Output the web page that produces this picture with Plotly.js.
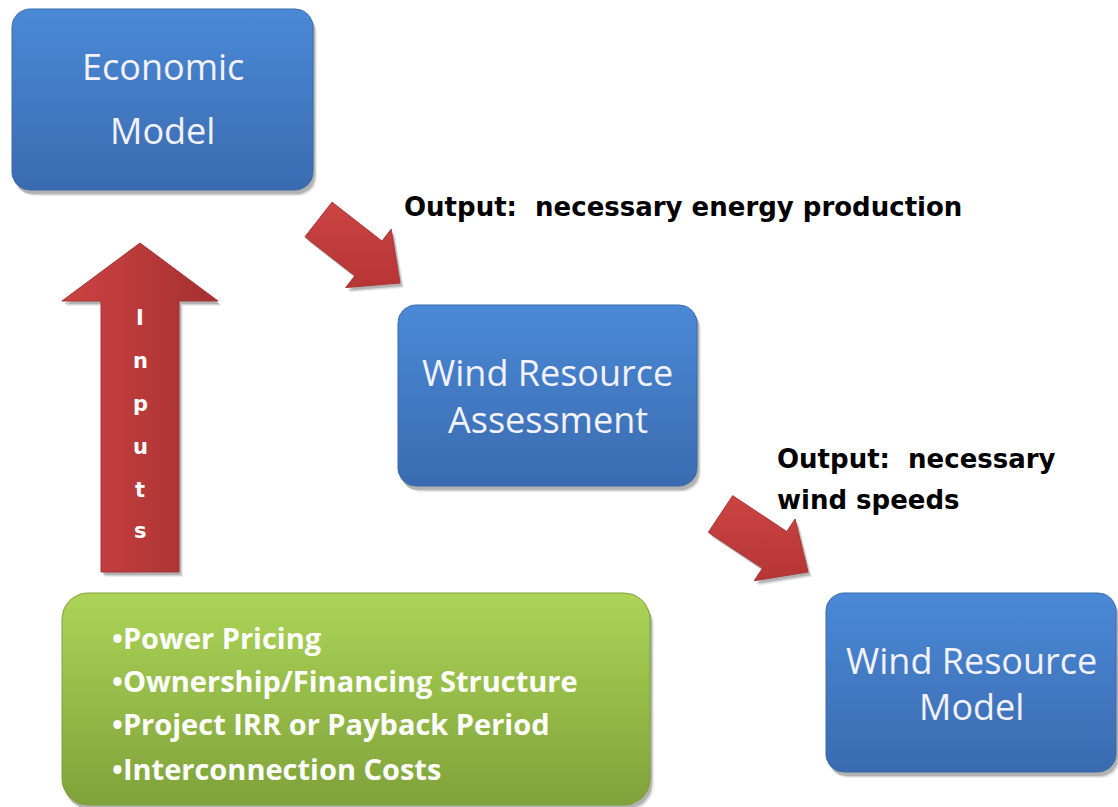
<!DOCTYPE html>
<html><head><meta charset="utf-8">
<script src="https://cdn.plot.ly/plotly-3.0.1.min.js"></script>
<style>html,body{margin:0;padding:0;background:#fff}#chart{width:1118px;height:807px}</style>
</head><body><div id="chart"></div>
<script>
// ---- content ----
const boxLabels = [["Economic","Model"],["Wind Resource","Assessment"],["Wind Resource","Model"]];
const inputItems = ["•Power Pricing","•Ownership/Financing Structure","•Project IRR or Payback Period","•Interconnection Costs"];
const arrowWord = ["I","n","p","u","t","s"];
const outputNotes = [["Output:  necessary energy production"],["Output:  necessary","wind speeds"]];

// ---- geometry (pixel space) ----
const boxRects = [[12,9,313,190],[398,305,697,486],[826,593,1116,772]];
const boxLineY = [[66,130],[372,419],[660,706]];
const greenRect = [62,593,650,805];
const inputLineY = [637,680,723,768];
const upArrow = {x:140, tipY:243, headY:301, headHalf:78, shaftHalf:39, bottom:572};
const diagArrows = [
  {tail:[318.5,219.5], tip:[400,283], shaftW:44, headW:74, headL:40},
  {tail:[720.5,514], tip:[808,572], shaftW:44, headW:74, headL:40}
];
const inputWordY = [318,361,404,447,490,531];
const noteX = [402,775];
const noteY = [[207],[459,500]];

function roundRect(x0,y0,x1,y1,r){
  const xs=[],ys=[],n=10;
  const corners=[[x1-r,y0+r,-Math.PI/2,0],[x1-r,y1-r,0,Math.PI/2],[x0+r,y1-r,Math.PI/2,Math.PI],[x0+r,y0+r,Math.PI,1.5*Math.PI]];
  corners.forEach(c=>{for(let i=0;i<=n;i++){const a=c[2]+(c[3]-c[2])*i/n;xs.push(c[0]+r*Math.cos(a));ys.push(c[1]+r*Math.sin(a));}});
  xs.push(xs[0]);ys.push(ys[0]);
  return [xs,ys];
}
function diagPoly(a){
  const dx=a.tip[0]-a.tail[0], dy=a.tip[1]-a.tail[1], L=Math.hypot(dx,dy);
  const ux=dx/L, uy=dy/L, px=-uy, py=ux;
  const bx=a.tip[0]-ux*a.headL, by=a.tip[1]-uy*a.headL;
  const s=a.shaftW/2, h=a.headW/2;
  const pts=[[a.tail[0]+px*s,a.tail[1]+py*s],[bx+px*s,by+py*s],[bx+px*h,by+py*h],a.tip,[bx-px*h,by-py*h],[bx-px*s,by-py*s],[a.tail[0]-px*s,a.tail[1]-py*s]];
  pts.push(pts[0]);
  return [pts.map(p=>p[0]),pts.map(p=>p[1])];
}
function upPoly(a){
  const pts=[[a.x,a.tipY],[a.x+a.headHalf,a.headY],[a.x+a.shaftHalf,a.headY],[a.x+a.shaftHalf,a.bottom],[a.x-a.shaftHalf,a.bottom],[a.x-a.shaftHalf,a.headY],[a.x-a.headHalf,a.headY],[a.x,a.tipY]];
  return [pts.map(p=>p[0]),pts.map(p=>p[1])];
}
const traces=[];
function addShadow(xs,ys,dx,dy){
  [[dx+2,dy+2,0.07],[dx+1,dy+1,0.1],[dx,dy,0.16]].forEach(o=>{
    traces.push({type:'scatter',mode:'lines',x:xs.map(v=>v+o[0]),y:ys.map(v=>v+o[1]),fill:'toself',fillcolor:'rgba(0,0,0,'+o[2]+')',line:{width:0},hoverinfo:'skip',showlegend:false});
  });
}
function addShape(xs,ys,c1,c2,orient,lineColor){
  traces.push({type:'scatter',mode:'lines',x:xs,y:ys,fill:'toself',
    fillgradient:{type:orient,colorscale:[[0,c1],[1,c2]]},
    line:{width:1,color:lineColor},hoverinfo:'skip',showlegend:false});
}
// blue boxes (top light -> bottom darker)
boxRects.forEach(r=>{
  const [xs,ys]=roundRect(r[0],r[1],r[2],r[3],18);
  addShadow(xs,ys,2,4);
  addShape(xs,ys,'#3a6bb0','#4a89d6','vertical','#3a6aa8');
});
// green box
{
  const [xs,ys]=roundRect(greenRect[0],greenRect[1],greenRect[2],greenRect[3],26);
  addShadow(xs,ys,2,4);
  addShape(xs,ys,'#7fa23a','#acd457','vertical','#7f9f3a');
}
// arrows
{
  const [xs,ys]=upPoly(upArrow);
  addShadow(xs,ys,2,3);
  addShape(xs,ys,'#cc4343','#a53030','horizontal','#a83232');
}
diagArrows.forEach(a=>{
  const [xs,ys]=diagPoly(a);
  addShadow(xs,ys,2,3);
  addShape(xs,ys,'#b53535','#cc4444','vertical','#b03333');
});

const annotations=[];
boxLabels.forEach((lines,i)=>{
  const r=boxRects[i], cx=(r[0]+r[2])/2;
  lines.forEach((t,j)=>annotations.push({x:cx,y:boxLineY[i][j],xref:'x',yref:'y',text:t,showarrow:false,
    xanchor:'center',yanchor:'middle',font:{family:'Open Sans',size:36,color:'#f3f1fb'}}));
});
inputItems.forEach((t,j)=>annotations.push({x:110,y:inputLineY[j],xref:'x',yref:'y',text:t,showarrow:false,
  xanchor:'left',yanchor:'middle',font:{family:'Open Sans',size:29,color:'#ffffff',weight:'bold'}}));
arrowWord.forEach((t,j)=>annotations.push({x:upArrow.x,y:inputWordY[j],xref:'x',yref:'y',text:t,showarrow:false,
  xanchor:'center',yanchor:'middle',font:{family:'DejaVu Sans',size:21,color:'#ffffff',weight:'bold'}}));
outputNotes.forEach((lines,i)=>lines.forEach((t,j)=>annotations.push({x:noteX[i],y:noteY[i][j],xref:'x',yref:'y',text:t,showarrow:false,
  xanchor:'left',yanchor:'middle',font:{family:'DejaVu Sans',size:26,color:'#000000',weight:'bold'}})));

Plotly.newPlot('chart',traces,{
  width:1118,height:807,margin:{l:0,r:0,t:0,b:0},
  paper_bgcolor:'#ffffff',plot_bgcolor:'#ffffff',showlegend:false,
  xaxis:{range:[0,1118],visible:false,fixedrange:true},
  yaxis:{range:[807,0],visible:false,fixedrange:true},
  annotations:annotations
},{displayModeBar:false,staticPlot:true});
</script></body></html>
